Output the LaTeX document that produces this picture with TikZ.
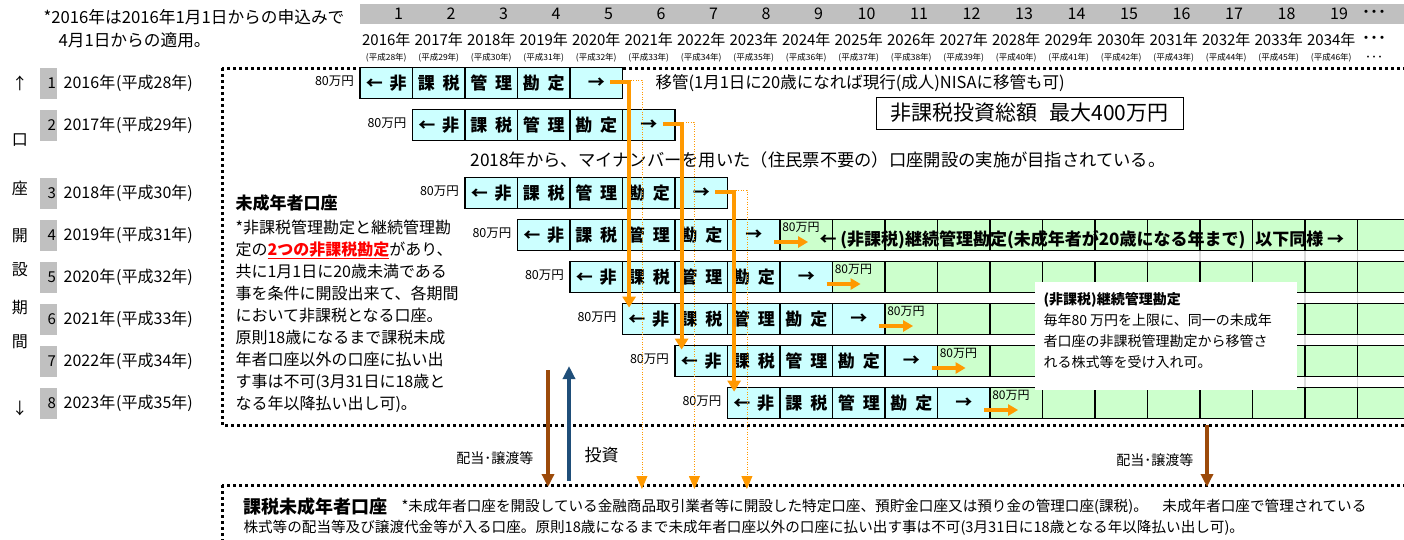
\documentclass[tikz,border=0pt]{standalone}
\usepackage{fontspec}
\setmainfont{Noto Sans CJK JP}
\usetikzlibrary{arrows.meta,calc,positioning}

\definecolor{nisablue}{HTML}{CCFFFF}
\definecolor{nisagreen}{HTML}{CCFFCC}
\definecolor{moveorange}{HTML}{FF9900}
\definecolor{payoutbrown}{HTML}{9C4A0A}
\definecolor{investblue}{HTML}{1F4E79}
\definecolor{headgrey}{HTML}{C0C0C0}

\newcommand{\nisafs}[1]{\fontsize{#1}{#1}\selectfont}
\newcommand{\nisadots}{・\hspace{-7pt}・\hspace{-7pt}・}

\tikzset{
  acct/.style={draw, line width=1.8pt, minimum width=52.5pt, minimum height=31pt, inner sep=0pt},
  taxfree/.style={acct, fill=nisablue, font=\bfseries\nisafs{17}},
  keep/.style={acct, fill=nisagreen},
  amount/.style={anchor=east, inner sep=0pt, font=\nisafs{12.5}},
  numbox/.style={fill=headgrey, minimum width=17pt, minimum height=31pt, inner sep=1pt, text width=15pt, align=right},
  dotbox/.style={line width=3pt, dash pattern=on 3pt off 3pt},
  moveline/.style={moveorange, line width=4pt, -{Triangle[width=13pt,length=11pt]}},
  transfer/.style={moveorange, line width=0.8pt, dash pattern=on 1pt off 1.5pt, -{Triangle[width=11pt,length=13pt]}},
  smallmove/.style={moveorange, line width=4pt, -{Triangle[width=11pt,length=10pt]}},
  payout/.style={payoutbrown, line width=3.5pt, -{Triangle[width=12pt,length=13pt]}},
  invest/.style={investblue, line width=3.5pt, -{Triangle[width=12pt,length=13pt]}},
}

\begin{document}
\begin{tikzpicture}[x=1pt,y=-1pt,font=\nisafs{15}]
  \useasboundingbox (0,0) rectangle (1404,539);
  \clip (0,0) rectangle (1404,539);
  % note
  \node[anchor=west, font=\nisafs{16.7}] (note1) at (40,17) {*2016年は2016年1月1日からの申込みで};
  \node[anchor=west, font=\nisafs{16.7}] (note2) at (55,40) {4月1日からの適用。};
  % year header
  \fill[headgrey] (360,4) rectangle (1404,24);
  \foreach \k [evaluate=\k as \yr using int(2015+\k), evaluate=\k as \hs using int(27+\k)] in {1,...,19} {
    \node[anchor=east, font=\nisafs{16}] (num\k) at ({360+\k*52.5-6},14) {\k};
    \node (yr\k) at ({360+(\k-0.5)*52.5},40) {\yr 年};
    \node[font=\nisafs{8.5}] (hs\k) at ({360+(\k-0.5)*52.5},58) {(平成\hs 年)};
  }
  \node[anchor=west] (numdots) at (1355,14) {\nisadots};
  \node[anchor=west] (yrdots) at (1355,40) {\nisadots};
  \node[anchor=west, font=\nisafs{9}] (hsdots) at (1360,58) {・\hspace{-3pt}・\hspace{-3pt}・};
  % opening period
  \foreach \t/\y in {↑/83,口/140,座/188,開/236,設/270,期/308,間/342,↓/408}
    \node[font=\nisafs{16}] at (20,\y) {\t};
  \foreach \r/\y in {1/83,2/125,3/193,4/235,5/277,6/319,7/361,8/403} {
    \pgfmathtruncatemacro{\yr}{2015+\r}
    \pgfmathtruncatemacro{\hs}{27+\r}
    \node[numbox] (n\r) at (48.5,\y) {\r};
    \node[anchor=west, right=3pt of n\r, font=\nisafs{16}] (lab\r) {\yr 年\hspace{1pt}(平成\hs 年)};
  }
  % dotted accounts
  \draw[dotbox] (222,68) rectangle (1420,425);
  \draw[dotbox] (222,485) rectangle (1420,560);
  % texts in minor account
  \node[anchor=west, font=\bfseries\nisafs{17}] (minor) at (232,203) {未成年者口座};
  \node[anchor=west, align=left, font=\fontsize{16}{22}\selectfont] (minortxt) at (232,316)
    {*非課税管理勘定と継続管理勘\\定の{\color{red}\bfseries\underline{2つの非課税勘定}}があり、\\共に1月1日に20歳未満である\\事を条件に開設出来て、各期間\\において非課税となる口座。\\原則18歳になるまで課税未成\\年者口座以外の口座に払い出\\す事は不可(3月31日に18歳と\\なる年以降払い出し可)。};
  \node[anchor=west, font=\nisafs{16.5}] (shift) at (652,83) {移管(1月1日に20歳になれば現行(成人)NISAに移管も可)};
  \node[draw, line width=0.8pt, minimum width=307pt, minimum height=32pt, font=\nisafs{21}] (limit) at (1029.5,113) {非課税投資総額\hspace{12pt}最大400万円};
  \node[anchor=west, font=\nisafs{17.3}] (mynum) at (467,160) {2018年から、マイナンバーを用いた（住民票不要の）口座開設の実施が目指されている。};
  % gridlines
  \foreach \x in {1147.5,1200,1252.5,1305,1357.5}
    \draw[black!15, line width=1.5pt] (\x,251) -- (\x,387);
  % tax-free accounts
  \foreach \r/\y in {1/83,2/125,3/193,4/235,5/277,6/319,7/361,8/403} {
    \pgfmathsetmacro{\xs}{360+(\r-1)*52.5}
    \foreach \c/\t in {1/{←\hspace{7pt}非},2/{課\hspace{8pt}税},3/{管\hspace{8pt}理},4/{勘\hspace{8pt}定},5/{→\hspace{14pt}}}
      \node[taxfree] (b\r-\c) at ({\xs+(\c-0.5)*52.5},\y) {\t};
    \node[amount] (a\r) at ($(b\r-1.west)+(-5,-2)$) {80万円};
  }
  % continued accounts
  \foreach \r/\y in {4/235,5/277,6/319,7/361,8/403} {
    \pgfmathtruncatemacro{\cs}{\r+5}
    \foreach \c in {\cs,...,20}
      \node[keep] (g\r-\c) at ({360+(\c-0.5)*52.5},\y) {};
    \node[amount, anchor=north west, font=\nisafs{12}] (ga\r) at ($(g\r-\cs.north west)+(3,3)$) {80万円};
    \coordinate (s\r) at ($(g\r-\cs.west)+(-5,7)$);
    \coordinate (e\r) at ($(g\r-\cs.west)+(29,7)$);
    \draw[smallmove] (s\r) -- (e\r);
  }
  \node[anchor=west, font=\bfseries\nisafs{17}] (keeptxt) at (816,240) {← (非課税)継続管理勘定(未成年者が20歳になる年まで)\hspace{10pt}以下同様 →};
  % popup
  \node[fill=white, minimum width=262pt, minimum height=108pt, anchor=north west] (popup) at (1035,282) {};
  \node[anchor=north west, align=left, font=\fontsize{14}{21}\selectfont] (popuptxt) at (1040,289)
    {\textbf{(非課税)継続管理勘定}\\毎年80 万円を上限に、同一の未成年\\者口座の非課税管理勘定から移管さ\\れる株式等を受け入れ可。};
  % transfers
  \foreach \r/\t in {1/6,2/7,3/8} {
    \coordinate (tp\r) at ($(b\r-5.east)+(7.5,-3)$);
    \coordinate (tx\r) at ($(b\r-5.east)+(18.5,0)$);
    \draw[transfer] (tp\r) -| (tx\r |- 0,489);
    \coordinate (mv\r) at ($(b\r-5.center)+(14,-1)$);
    \coordinate (in\t) at ($(b\t-1.north west)+(7.5,5)$);
    \draw[moveline] (mv\r) -| (in\t);
  }
  % taxable account
  \coordinate (pay1) at (548,370); \coordinate (pay1e) at (548,487);
  \coordinate (inv1) at (569,481); \coordinate (inv1e) at (569,366);
  \coordinate (pay2) at (1207,425); \coordinate (pay2e) at (1207,487);
  \draw[payout] (pay1) -- (pay1e);
  \draw[invest] (inv1) -- (inv1e);
  \draw[payout] (pay2) -- (pay2e);
  \node[anchor=east, font=\nisafs{14}] (paylab1) at (537,458) {配当･譲渡等};
  \node[anchor=west, font=\nisafs{17}] (invlab) at (581,455) {投資};
  \node[anchor=east, font=\nisafs{14}] (paylab2) at (1197,460) {配当･譲渡等};
  \node[anchor=west, font=\bfseries\nisafs{18}] (taxhead) at (240,507) {課税未成年者口座};
  \node[anchor=west, right=7pt of taxhead, font=\nisafs{14.6}] (taxtxt1) {*未成年者口座を開設している金融商品取引業者等に開設した特定口座、預貯金口座又は預り金の管理口座(課税)。\quad 未成年者口座で管理されている};
  \node[anchor=west, font=\nisafs{14.6}] (taxtxt2) at (240,528) {株式等の配当等及び譲渡代金等が入る口座。原則18歳になるまで未成年者口座以外の口座に払い出す事は不可(3月31日に18歳となる年以降払い出し可)。};
\end{tikzpicture}
\end{document}
